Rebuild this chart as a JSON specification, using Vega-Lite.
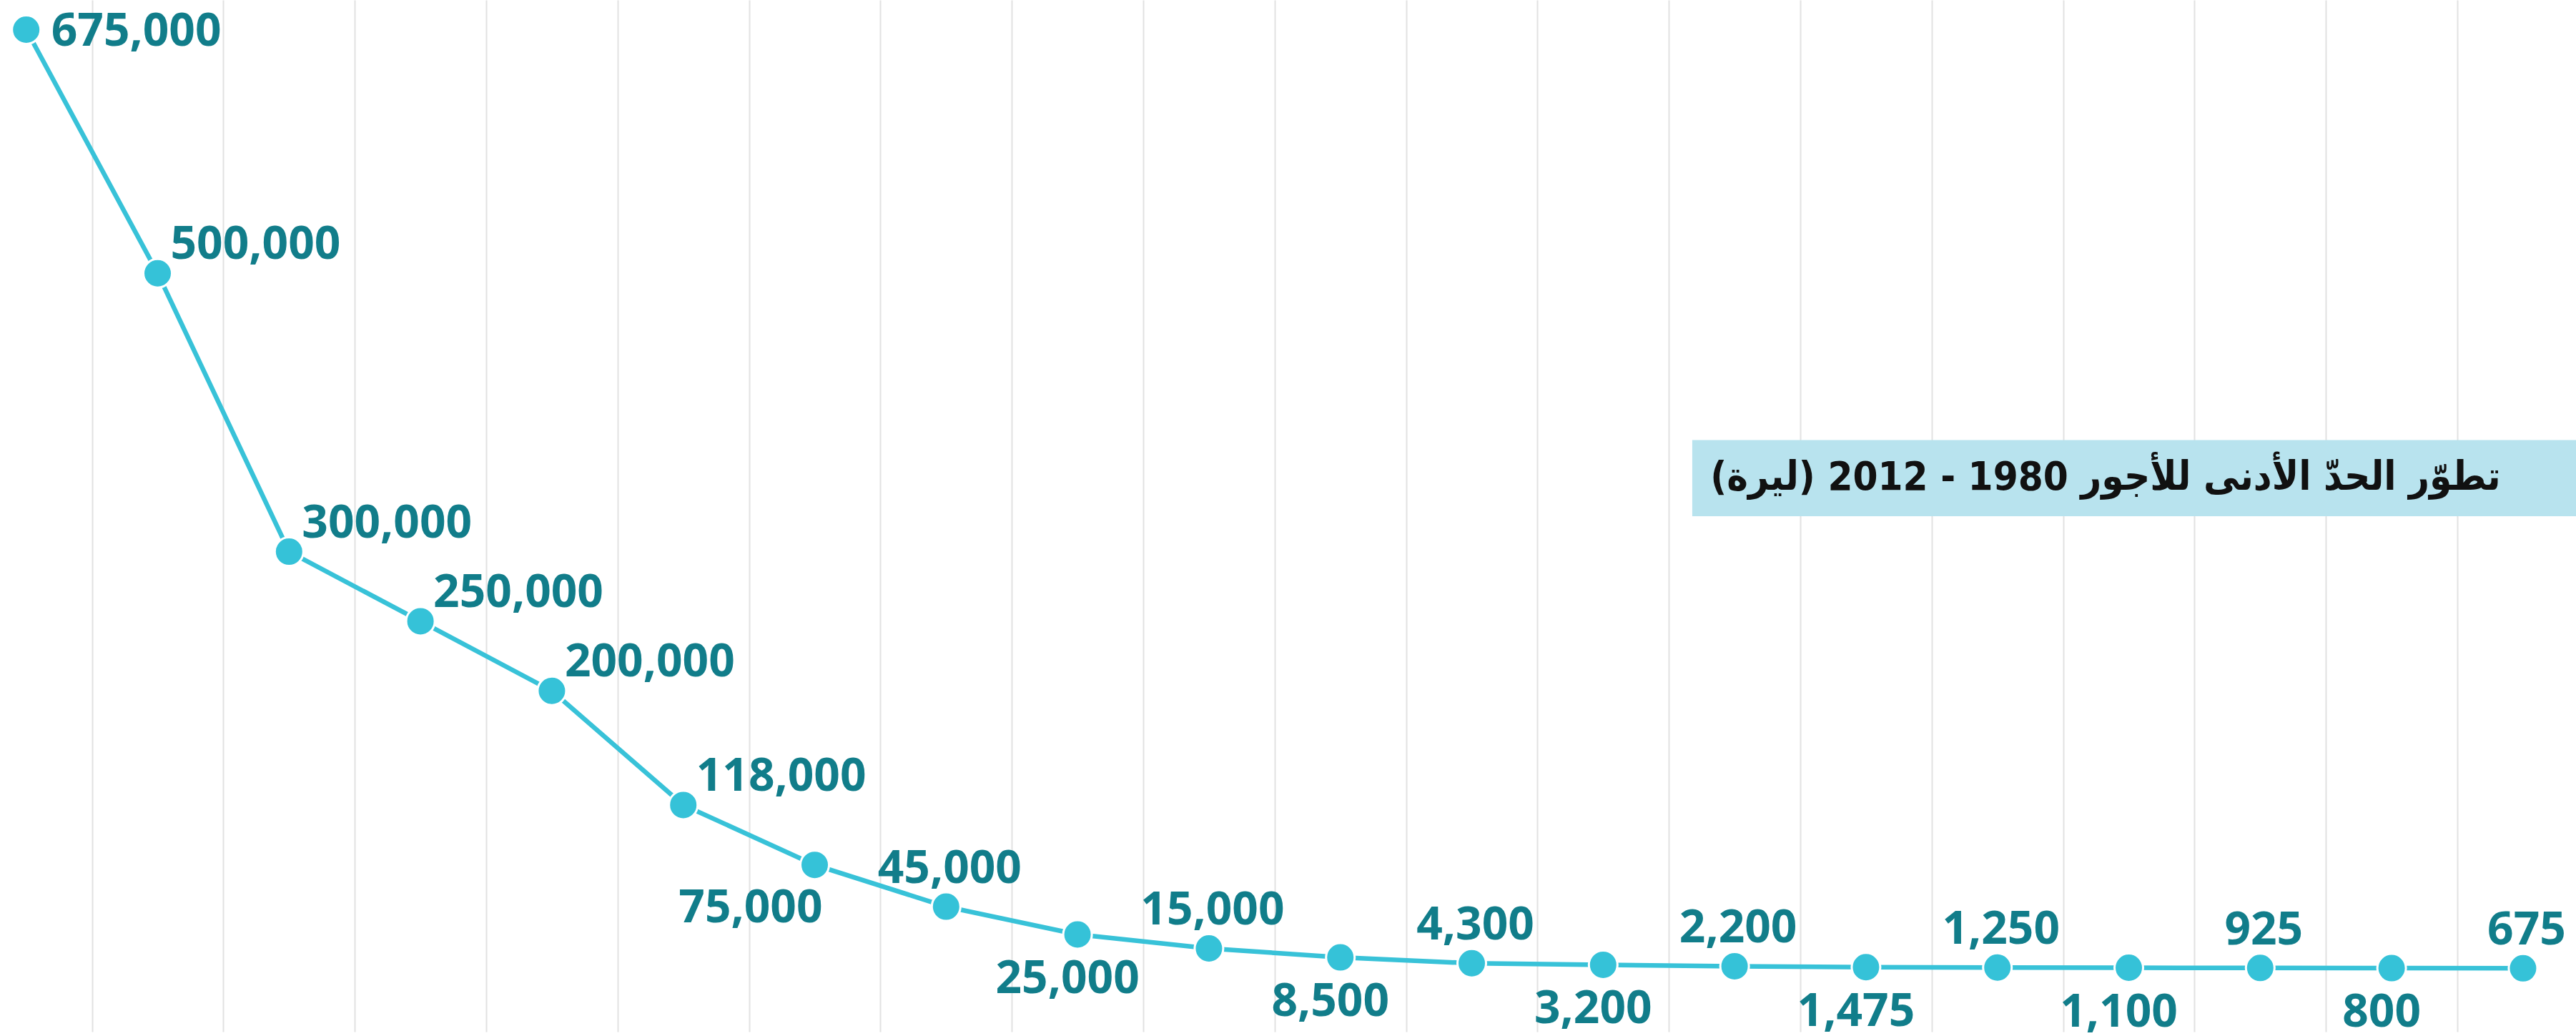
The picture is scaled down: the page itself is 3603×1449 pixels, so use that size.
{
  "$schema": "https://vega.github.io/schema/vega-lite/v6.json",
  "width": 3603,
  "height": 1449,
  "autosize": {"type": "fit", "contains": "padding"},
  "padding": 0,
  "background": "white",
  "config": {"view": {"stroke": null}},
  "datasets": {
    "wages": [
      {"idx": 0, "value": 675000, "side": "right"},
      {"idx": 1, "value": 500000, "side": "upright"},
      {"idx": 2, "value": 300000, "side": "upright"},
      {"idx": 3, "value": 250000, "side": "upright"},
      {"idx": 4, "value": 200000, "side": "upright"},
      {"idx": 5, "value": 118000, "side": "upright"},
      {"idx": 6, "value": 75000, "side": "lowleft"},
      {"idx": 7, "value": 45000, "side": "above"},
      {"idx": 8, "value": 25000, "side": "below"},
      {"idx": 9, "value": 15000, "side": "above"},
      {"idx": 10, "value": 8500, "side": "below"},
      {"idx": 11, "value": 4300, "side": "above"},
      {"idx": 12, "value": 3200, "side": "below"},
      {"idx": 13, "value": 2200, "side": "above"},
      {"idx": 14, "value": 1475, "side": "below"},
      {"idx": 15, "value": 1250, "side": "above"},
      {"idx": 16, "value": 1100, "side": "below"},
      {"idx": 17, "value": 925, "side": "above"},
      {"idx": 18, "value": 800, "side": "below"},
      {"idx": 19, "value": 675, "side": "above"}
    ],
    "titlebox": [
      {"x1": 12.678, "x2": 19.403, "y1": 380200, "y2": 325470, "tx": 18.83, "ty": 353100, "title": "\u200Fتطوّر الحدّ الأدنى للأجور 1980 - 2012  (ليرة)\u200F"}
    ]
  },
  "layer": [
    {
      "data": {"name": "wages"},
      "mark": {"type": "line", "opacity": 0},
      "encoding": {
        "x": {
          "field": "idx",
          "type": "quantitative",
          "scale": {"domain": [-0.1997, 19.403], "nice": false, "zero": false},
          "axis": {
            "values": [0.5, 1.5, 2.5, 3.5, 4.5, 5.5, 6.5, 7.5, 8.5, 9.5, 10.5, 11.5, 12.5, 13.5, 14.5, 15.5, 16.5, 17.5, 18.5],
            "grid": true,
            "gridColor": "#e2e2e2",
            "gridWidth": 2,
            "labels": false,
            "ticks": false,
            "domain": false,
            "title": null
          }
        },
        "y": {
          "field": "value",
          "type": "quantitative",
          "scale": {"domain": [-44860, 696320], "nice": false, "zero": false},
          "axis": null
        }
      }
    },
    {
      "data": {"name": "titlebox"},
      "mark": {"type": "rect", "color": "#b8e3ee"},
      "encoding": {
        "x": {"field": "x1", "type": "quantitative"},
        "x2": {"field": "x2"},
        "y": {"field": "y1", "type": "quantitative"},
        "y2": {"field": "y2"}
      }
    },
    {
      "data": {"name": "titlebox"},
      "mark": {"type": "text", "align": "right", "baseline": "middle", "font": "DejaVu Sans Condensed, DejaVu Sans", "fontWeight": "bold", "fontSize": 56, "color": "#111111"},
      "encoding": {
        "x": {"field": "tx", "type": "quantitative"},
        "y": {"field": "ty", "type": "quantitative"},
        "text": {"field": "title"}
      }
    },
    {
      "data": {"name": "wages"},
      "layer": [
        {
          "mark": {"type": "line", "color": "#38c2d8", "strokeWidth": 6.5}
        },
        {
          "mark": {"type": "point", "filled": true, "opacity": 1, "color": "#35c2d8", "size": 1600, "stroke": "white", "strokeWidth": 3}
        },
        {
          "transform": [{"filter": "datum.side === 'right'"}],
          "mark": {"type": "text", "align": "left", "baseline": "alphabetic", "dx": 35, "dy": 22, "font": "Open Sans", "fontWeight": "bold", "fontSize": 64, "color": "#117d8a"},
          "encoding": {"text": {"field": "value", "type": "quantitative", "format": ","}}
        },
        {
          "transform": [{"filter": "datum.side === 'upright'"}],
          "mark": {"type": "text", "align": "left", "baseline": "alphabetic", "dx": 18, "dy": -20, "font": "Open Sans", "fontWeight": "bold", "fontSize": 64, "color": "#117d8a"},
          "encoding": {"text": {"field": "value", "type": "quantitative", "format": ","}}
        },
        {
          "transform": [{"filter": "datum.side === 'lowleft'"}],
          "mark": {"type": "text", "align": "right", "baseline": "alphabetic", "dx": 11, "dy": 80, "font": "Open Sans", "fontWeight": "bold", "fontSize": 64, "color": "#117d8a"},
          "encoding": {"text": {"field": "value", "type": "quantitative", "format": ","}}
        },
        {
          "transform": [{"filter": "datum.side === 'above'"}],
          "mark": {"type": "text", "align": "center", "baseline": "alphabetic", "dx": 5, "dy": -33, "font": "Open Sans", "fontWeight": "bold", "fontSize": 64, "color": "#117d8a"},
          "encoding": {"text": {"field": "value", "type": "quantitative", "format": ","}}
        },
        {
          "transform": [{"filter": "datum.side === 'below'"}],
          "mark": {"type": "text", "align": "center", "baseline": "alphabetic", "dx": -14, "dy": 82, "font": "Open Sans", "fontWeight": "bold", "fontSize": 64, "color": "#117d8a"},
          "encoding": {"text": {"field": "value", "type": "quantitative", "format": ","}}
        }
      ],
      "encoding": {
        "x": {"field": "idx", "type": "quantitative"},
        "y": {"field": "value", "type": "quantitative"}
      }
    }
  ]
}
